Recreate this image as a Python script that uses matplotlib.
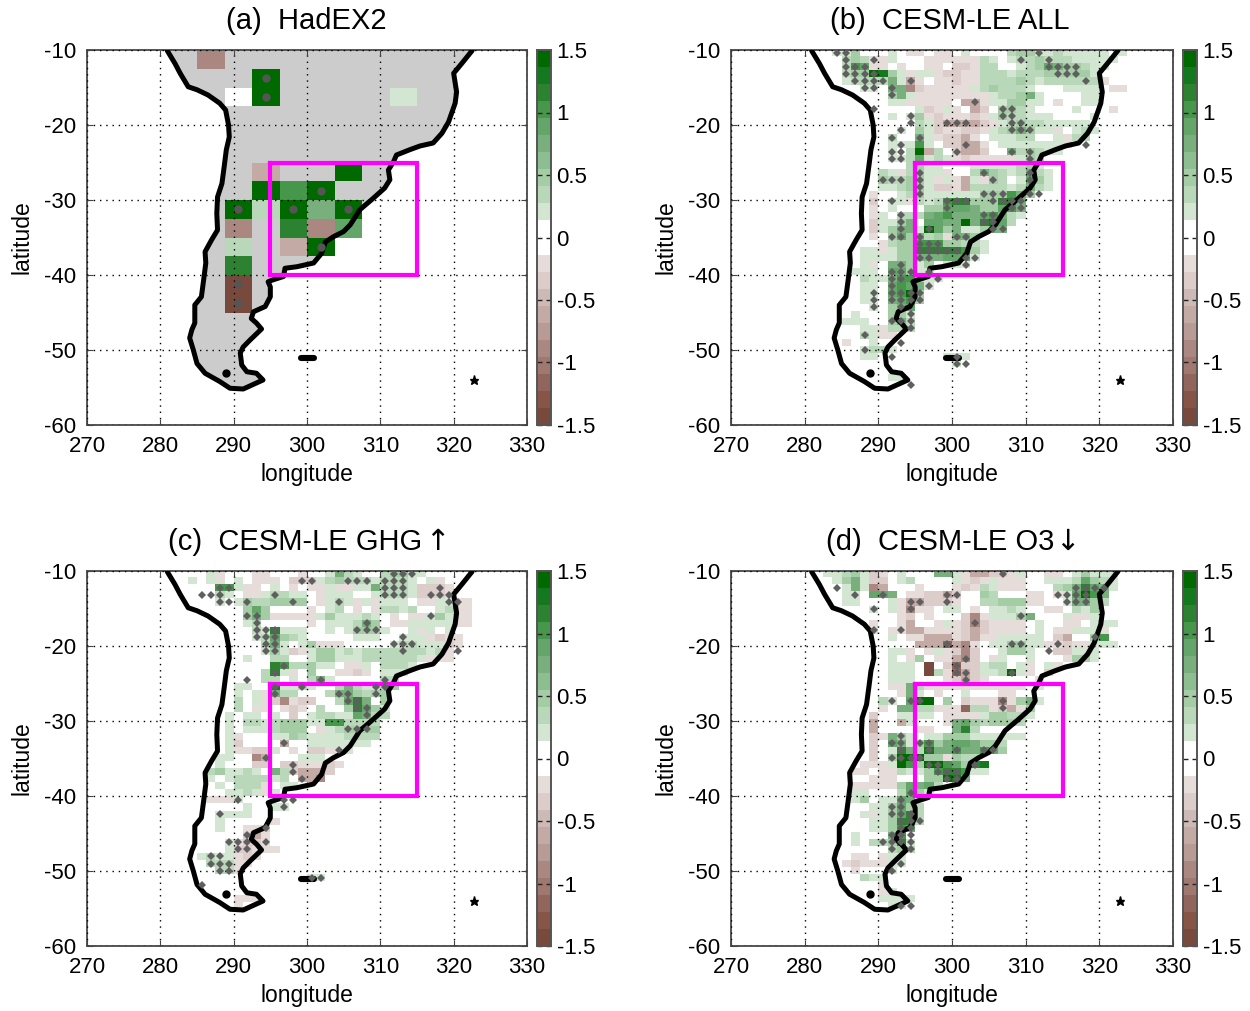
import numpy as np
import matplotlib
matplotlib.use('Agg')
import matplotlib.pyplot as plt
from matplotlib.colors import ListedColormap, BoundaryNorm

plt.rcParams['font.family'] = ['Liberation Sans', 'DejaVu Sans']
plt.rcParams['axes.unicode_minus'] = False

# coastline (lon, lat)
coast_lon = [280.95, 282.0, 282.7, 283.8, 285.0, 286.5, 288.1, 288.9, 289.3, 289.4, 289.0, 288.7, 288.4, 287.8, 287.7,
             287.8, 287.0, 286.1, 286.2, 285.9, 285.6, 284.7, 284.7, 284.3, 284.0, 284.5, 285.0, 286.1, 288.1, 289.5,
             291.3, 293.1, 294.0, 293.1, 291.8, 291.1, 290.9, 291.3, 292.2, 293.8, 293.1, 292.4, 292.7, 294.3, 295.0,
             295.0, 294.7, 295.2, 296.8, 297.0, 298.6, 300.9, 302.0, 302.5, 303.6, 305.0, 305.9, 307.2, 309.0, 310.6,
             311.3, 311.1, 311.8, 312.2, 314.0, 315.4, 317.2, 318.4, 319.3, 320.2, 320.4, 320.0, 321.1, 322.5]
coast_lat = [-10.1, -11.8, -13.1, -14.9, -15.3, -16.0, -17.1, -18.0, -20.0, -21.6, -23.3, -25.6, -27.8, -29.6, -31.8,
             -34.0, -35.3, -36.9, -38.4, -40.7, -42.9, -44.0, -46.4, -47.3, -48.4, -50.0, -51.8, -53.1, -54.2, -55.1,
             -55.2, -54.4, -54.0, -53.1, -52.9, -52.0, -50.4, -49.6, -48.7, -47.2, -46.4, -45.8, -44.9, -44.2, -42.9,
             -41.6, -40.9, -40.7, -40.2, -39.1, -38.9, -38.4, -37.1, -35.6, -34.9, -34.2, -33.3, -31.3, -29.8, -28.4,
             -27.3, -26.0, -24.9, -24.0, -23.3, -22.8, -22.4, -21.1, -19.6, -17.1, -15.6, -13.1, -11.8, -10.1]
island_lon = [299.2, 301.0]
island_lat = [-51.0, -51.0]
lake = (288.9, -53.0)
star = (322.8, -54.0)

# (a) HadEX2 cells, rows from the top, nan = no data
nan = np.nan
had_lon_edges = [285, 288.75, 292.5, 296.25, 300, 303.75, 307.5, 311.25, 315]
had_lat_edges = [-10, -12.5, -15, -17.5, -20, -22.5, -25, -27.5, -30, -32.5, -35, -37.5, -40, -42.5, -45]
had_vals = [
    [-0.85, nan, nan, nan, nan, nan, nan, nan],
    [nan, nan, 1.45, nan, nan, nan, nan, nan],
    [nan, 0.0, 1.45, nan, nan, nan, nan, 0.25],
    [nan, nan, nan, nan, nan, nan, nan, nan],
    [nan, nan, nan, nan, nan, nan, nan, nan],
    [nan, nan, nan, nan, nan, nan, nan, nan],
    [nan, nan, -0.6, nan, nan, 1.45, nan, nan],
    [nan, nan, 1.45, 1.0, 1.45, nan, nan, nan],
    [nan, 1.45, 0.4, 1.45, 0.7, 1.45, nan, nan],
    [nan, -0.85, nan, 1.15, -0.85, 0.9, nan, nan],
    [nan, 0.4, nan, -0.6, 1.45, nan, nan, nan],
    [nan, 1.15, nan, nan, nan, nan, nan, nan],
    [nan, -1.45, nan, nan, nan, nan, nan, nan],
    [nan, -1.45, nan, nan, nan, nan, nan, nan],
]
had_stip = [(1, 2), (2, 2), (7, 4), (8, 1), (8, 3), (8, 5), (10, 4), (12, 1), (13, 1)]  # (row, col)

# CESM panels: one text row per latitude row, one char per 1.25 deg column from 280E
# . white, 1-9,X green levels, a-f brown levels
all_rows = [
    "...113...1.aa.aa.1....23311211111.1",
    "....232aa1...aaaaaa21.122322211111",
    "....265aa.a..aa.bba22..1235433211",
    "....233X831a11abbaa2221222333331",
    "....1222241ca.aabaa2222321222222a",
    "......11.44dbaaaaa1232221...1111.aa",
    ".........341aaaaaaaa122341....11",
    ".........11aaaaa.cca113311.a..11",
    "............1ba1a.cb.3321....1...a",
    ".........1.13abaaaba1322111....1",
    "............21bccccba1232211111",
    "..........1.31baabba1234311a.121",
    ".........2..41abbca.11122..1a22",
    ".........11161.bbcca.1111111a",
    ".........1.29c2.bccb..423211",
    ".........1125121abaaaaa132",
    "...........2311...11111231",
    "........21a2311a..243212421",
    "........322331a1ac1a32.1531",
    "........112331bbac222212421",
    ".......a..123111111333643",
    ".......b.11a212677333774",
    ".......a.1...33555433564",
    ".......a1.22245644456421",
    ".......b1134.5544X47852",
    ".......b13441953411344",
    ".......a.353423a443",
    "........a23366633221",
    "......11a13377777631",
    "......1111334445551",
    "......1a.44313.111",
    ".....111.55311",
    "......211466211",
    "......11.56541",
    "......11.5693",
    "......11.4563",
    ".......1.345",
    ".....1...331",
    "....111..342",
    "......11a222",
    "......21aa",
    "....a..1",
    "......1221",
    "......11.......111",
    "................1",
    "",
    ".........11",
    "",
]
all_stip = {0: [3, 4, 25], 1: [4, 7, 23, 26], 2: [4, 5, 6, 26, 27, 28, 29], 3: [4, 5, 6, 7, 27, 28, 29],
            4: [5, 6, 7, 8, 11, 30], 5: [6, 7, 9], 6: [9], 7: [18], 8: [7, 21, 22], 9: [11, 21, 22],
            10: [11, 15, 16, 17, 22, 23], 11: [10, 22, 23, 24], 12: [9, 12], 13: [10, 17, 30],
            14: [9, 10, 16, 22, 24], 15: [9, 10, 24], 17: [12, 19, 24], 18: [8, 9, 10, 12, 20, 24], 19: [12],
            20: [12, 19, 20, 21, 24, 25], 21: [9, 15, 16, 17, 20, 21, 22, 23], 22: [15, 22, 23], 23: [10, 19, 20],
            24: [10, 19, 20], 25: [10, 13, 20, 21], 26: [9, 10, 12, 16, 17], 27: [12, 13, 14],
            28: [12, 13, 14, 15, 16], 29: [12, 13, 17, 18], 30: [10, 17], 31: [9, 10, 11, 13], 32: [9, 10, 14],
            33: [9, 13], 34: [7, 9, 10, 11, 12], 35: [7, 9, 10, 11, 12], 36: [7, 10], 37: [11], 38: [9, 10, 11],
            39: [11], 40: [6], 41: [10], 42: [6], 43: [9, 16], 44: [16, 17], 47: [11]}

ghg_rows = [
    ".....1a...aa...a..1421..23311",
    "...1.1a.1.aaa.bbb12322212221.1a",
    "......661aa.1.a.aa1aa1142221bbba",
    "......21.aa12211.a111..12221bbba",
    "......1.13223333.a121a1a111.aa11aa",
    ".........353....a.12.a.a2212..12aa",
    ".........343aaaaa1311121.a.aa131aa",
    ".........12.....a.111243.aa11111aa",
    "..........217111..1.13331..1a1.1",
    "..........125321.....111..111abaa",
    "...........241.13aaa.....122111ba",
    "...........131ba133121222222212a",
    ".........1..22..1331112222221aaa",
    "............7622311.aa1.2221",
    "...........271a.3..aaba.111",
    "...........22.1.241.....22",
    "........11..81121..2421123",
    "........1.1a422...2443233",
    "........2.1abdabb..2574.3",
    "........2.aa.aba.2..37531",
    ".......1.11.1.b.122115422",
    ".......1.221233311662222",
    ".......1.1112333.a123333",
    ".......1a...113211112222",
    ".......1b....c..1111111",
    ".......1aabb1.a.bbaa1",
    "......11..dc...111",
    "......1...bb.bbaaaba",
    ".....231121.42bcccb",
    ".....1.1222212.ccd",
    "......1.222a.11",
    ".......1121a1",
    ".....aaa1",
    ".........1..11",
    "......1111",
    "......1.....a",
    "......1..aab",
    ".........bca",
    ".......1abba",
    ".......1bbaaa",
    "....1211aba",
    ".....222aa",
    "......22a",
    "................11",
    "",
    "",
    "........aaa",
    "........a",
]
ghg_stip = {0: [25, 26, 27], 1: [15, 16, 20, 21, 22, 24, 25, 26], 2: [6, 7, 24, 25, 26, 30],
            3: [4, 5, 6, 12, 24, 25, 26, 29, 30, 31], 4: [6, 7, 9, 14, 19, 31, 32], 6: [9, 10, 29], 7: [10, 22],
            8: [10, 11, 12, 21, 22, 23], 9: [10, 11, 12, 26], 10: [11, 12, 25, 26, 27], 11: [11, 12, 26, 32],
            13: [13], 14: [12], 15: [9, 17, 24], 16: [12, 15, 23, 24], 17: [12, 19, 20, 23], 18: [20, 21],
            19: [21, 22], 20: [22], 22: [20, 21, 22], 24: [13], 25: [19], 26: [11], 27: [14], 28: [14], 29: [15],
            32: [8, 13, 14], 33: [13], 34: [6], 36: [11], 37: [9], 38: [7, 8, 9, 11], 39: [8, 9], 40: [5, 6],
            41: [5, 6, 7], 42: [6, 7], 43: [16, 17], 44: [4]}

o3_rows = [
    "..11231ba.1...441accbba1..aa.13111",
    "...1341bb.12....1aba1aaa..11125321",
    "....141dc...a...aba21aaa...2347541",
    "....11.554.aabbcb..32...aa.a15X64",
    "....11...1accbbba..22333aa..14432",
    ".......1.1adaa.11.a.1121..aa.213",
    "..........ab.a...bda11134...1aa1",
    ".......a..ac..a1abdbaaaa.1..aa.111",
    ".......a.aaccaaaabcbaaaa.1.aa111a",
    ".........1.aacccabcaa11111.bc..36",
    "............cccecda.113311aabaa111",
    ".........11a.a1abdb..1331..bb111",
    ".........1.a3.aacdb.a1..1...a331",
    ".........111.f.bebb122.1a.1a",
    ".........111.f2aecb112X1a.b",
    ".........111...abcba.....a",
    ".........aa42aaaaaaaaaaa.1",
    "..........a41.a..1...aa",
    "........21.5XX.3.baaada341",
    "........a.4422aaae22abca3",
    ".......b..1111.aaaa133221",
    ".......c..c1...a45323332",
    ".......c....aa..472",
    ".......ba431.11333111111",
    ".......b.5413634554332",
    ".......b.1742844644653",
    ".......b.3XXX33a322",
    "......aaa1X63XX65378",
    ".....aa.aa2113677611",
    ".......aaa...33X84",
    ".....aaaaa35452",
    ".....11...2531",
    ".....13.1154",
    ".......113532",
    "......1a13572",
    ".......113772",
    ".......11365",
    ".....1...46",
    ".....1.22371",
    ".........232",
    ".....aa.a11",
    "....abaaa11",
    ".....a...1",
    "......211",
    "........a",
    "........a1",
    "........1111",
    ".........11",
]
o3_stip = {0: [21], 2: [3, 29, 30, 31, 32], 3: [5, 8, 15, 16, 27, 28, 29, 30], 4: [11, 12, 15, 28, 29, 30],
           5: [7, 11], 6: [23], 7: [18], 8: [7, 10], 9: [31], 10: [15, 22, 23, 27], 11: [26], 12: [17], 13: [16],
           14: [16, 17, 22], 15: [17], 18: [9, 11, 12, 21], 19: [21], 23: [10], 24: [9, 10, 12, 13],
           25: [10, 13, 16, 19, 20], 26: [9, 10, 11, 12], 27: [13, 14, 18], 28: [14, 15, 16], 29: [15, 16],
           31: [11], 32: [10], 33: [9, 10], 34: [9, 10, 11], 35: [10, 11, 12], 36: [10, 11], 37: [9, 10, 11],
           38: [8, 9, 10, 11], 39: [9, 11], 41: [10], 42: [9], 47: [10, 11]}

titles = ['(a)  HadEX2', '(b)  CESM-LE ALL', '(c)  CESM-LE GHG', '(d)  CESM-LE O3']
title_arrows = [None, None, '\u2191', '\u2193']
lon_ticks = [270, 280, 290, 300, 310, 320, 330]
lat_ticks = [-10, -20, -30, -40, -50, -60]
cbar_ticks = [1.5, 1, 0.5, 0, -0.5, -1, -1.5]
cbar_labels = ['1.5', '1', '0.5', '0', '-0.5', '-1', '-1.5']

# colour bands, bottom to top: 10 brown, 2 white, 10 green
brown_bands = ['#784a3e', '#875548', '#91645c', '#a07870', '#aa8780', '#b99b96', '#c3aaa5', '#cdb9b6', '#dccdca', '#e6dcda']
green_bands = ['#d2e6d2', '#b9d7b9', '#a5cda5', '#8cbe91', '#78af7d', '#64a569', '#46964b', '#2d8232', '#14781e', '#006900']
band_colors = brown_bands + ['#ffffff', '#ffffff'] + green_bands
cmap = ListedColormap(band_colors)
edges = np.linspace(-1.5, 1.5, 23)
norm = BoundaryNorm(edges, cmap.N)

# value each letter in the rows stands for
level_vals = {'.': 0.0, '1': 0.2, '2': 0.34, '3': 0.48, '4': 0.75, '5': 0.89, '6': 1.02, '7': 1.16, '8': 1.3,
              '9': 1.43, 'X': 1.45, 'a': -0.2, 'b': -0.34, 'c': -0.61, 'd': -0.89, 'e': -1.16, 'f': -1.43}

cesm_lon_edges = 280 + 1.25 * np.arange(36)
cesm_lat_edges = -9.895 - 0.9424 * np.arange(49)


def rows_to_grid(rows):
    grid = np.zeros((48, 35))
    for r, row in enumerate(rows):
        for k, ch in enumerate(row[:35]):
            grid[r, k] = level_vals[ch]
    return grid


def stip_points(stip):
    xs, ys = [], []
    for r, cols in stip.items():
        for k in cols:
            xs.append(cesm_lon_edges[k] + 0.625)
            ys.append(cesm_lat_edges[r] - 0.4712)
    return xs, ys


W, H = 1250.0, 1011.0
fig = plt.figure(figsize=(12.5, 10.11), dpi=100)

boxes = [(87, 50, 527, 425), (731, 50, 1173, 425), (87, 571, 527, 946), (731, 571, 1173, 946)]
panels = [None, (all_rows, all_stip), (ghg_rows, ghg_stip), (o3_rows, o3_stip)]
title_x = [306, 950, 295, 940]
arrow_x = [None, None, 437, 1067]

for i, (x0, y0, x1, y1) in enumerate(boxes):
    ax = fig.add_axes([x0 / W, 1 - y1 / H, (x1 - x0) / W, (y1 - y0) / H])
    if i == 0:
        ax.fill(coast_lon, coast_lat, color='#cccccc', lw=0, zorder=1)
        ax.fill_between([coast_lon[0], coast_lon[-1]], -10.1, -9.9, color='#cccccc', lw=0, zorder=1)
        ax.pcolormesh(had_lon_edges, had_lat_edges, np.ma.masked_invalid(np.array(had_vals)),
                      cmap=cmap, norm=norm, zorder=2)
        for r, k in had_stip:
            ax.plot((had_lon_edges[k] + had_lon_edges[k + 1]) / 2, (had_lat_edges[r] + had_lat_edges[r + 1]) / 2,
                    'o', color='#555555', ms=6, mew=0, zorder=6)
    else:
        rows, stip = panels[i]
        ax.pcolormesh(cesm_lon_edges, cesm_lat_edges, rows_to_grid(rows), cmap=cmap, norm=norm, zorder=2)
        sx, sy = stip_points(stip)
        ax.plot(sx, sy, 'D', color='#5f5f5f', ms=3.6, mew=0, zorder=6)

    ax.grid(True, color='black', linestyle=(0, (1, 3.5)), linewidth=1, zorder=3)
    ax.set_axisbelow(False)
    ax.plot(coast_lon, coast_lat, color='black', lw=3.6, zorder=4, solid_capstyle='round')
    ax.plot(island_lon, island_lat, color='black', lw=4.4, zorder=4, solid_capstyle='round')
    ax.plot(lake[0], lake[1], 'o', color='black', ms=5, zorder=4)
    ax.plot(star[0], star[1], '*', color='black', ms=6.5, zorder=4)
    ax.plot([295, 315, 315, 295, 295], [-25, -25, -40, -40, -25], color='#ff00ff', lw=3, zorder=5,
            solid_joinstyle='miter')

    ax.set_xlim(270, 330)
    ax.set_ylim(-60, -10)
    ax.set_xticks(lon_ticks)
    ax.set_yticks(lat_ticks)
    ax.tick_params(direction='in', length=4, width=0.8, labelsize=16, color='#444444', top=True, right=True)
    ax.tick_params(axis='x', pad=8)
    ax.tick_params(axis='y', pad=8)
    for s in ax.spines.values():
        s.set_color('#555555')
        s.set_linewidth(1.4)
    ax.set_xlabel('longitude', fontsize=16.5, labelpad=4)
    ax.set_ylabel('latitude', fontsize=16.5, labelpad=7)
    fig.text(title_x[i] / W, 1 - (y0 - 29) / H, titles[i], fontsize=21, ha='center', va='center')
    if title_arrows[i]:
        fig.text(arrow_x[i] / W, 1 - (y0 - 29) / H, title_arrows[i], fontsize=21, ha='center', va='center',
                 family='DejaVu Sans')

    # colour bar next to the panel
    cax = fig.add_axes([(x1 + 10) / W, 1 - y1 / H, 14 / W, (y1 - y0) / H])
    cax.pcolormesh([0, 1], edges, ((edges[:-1] + edges[1:]) / 2).reshape(-1, 1), cmap=cmap, norm=norm)
    cax.set_xticks([])
    cax.set_ylim(-1.5, 1.5)
    cax.yaxis.tick_right()
    cax.set_yticks(cbar_ticks)
    cax.set_yticklabels(cbar_labels)
    cax.tick_params(direction='in', length=3.5, width=1, labelsize=16, left=True, right=True, color='#222222', pad=4)
    for s in cax.spines.values():
        s.set_color('#555555')
        s.set_linewidth(1.4)

fig.savefig('out.png', dpi=100)
